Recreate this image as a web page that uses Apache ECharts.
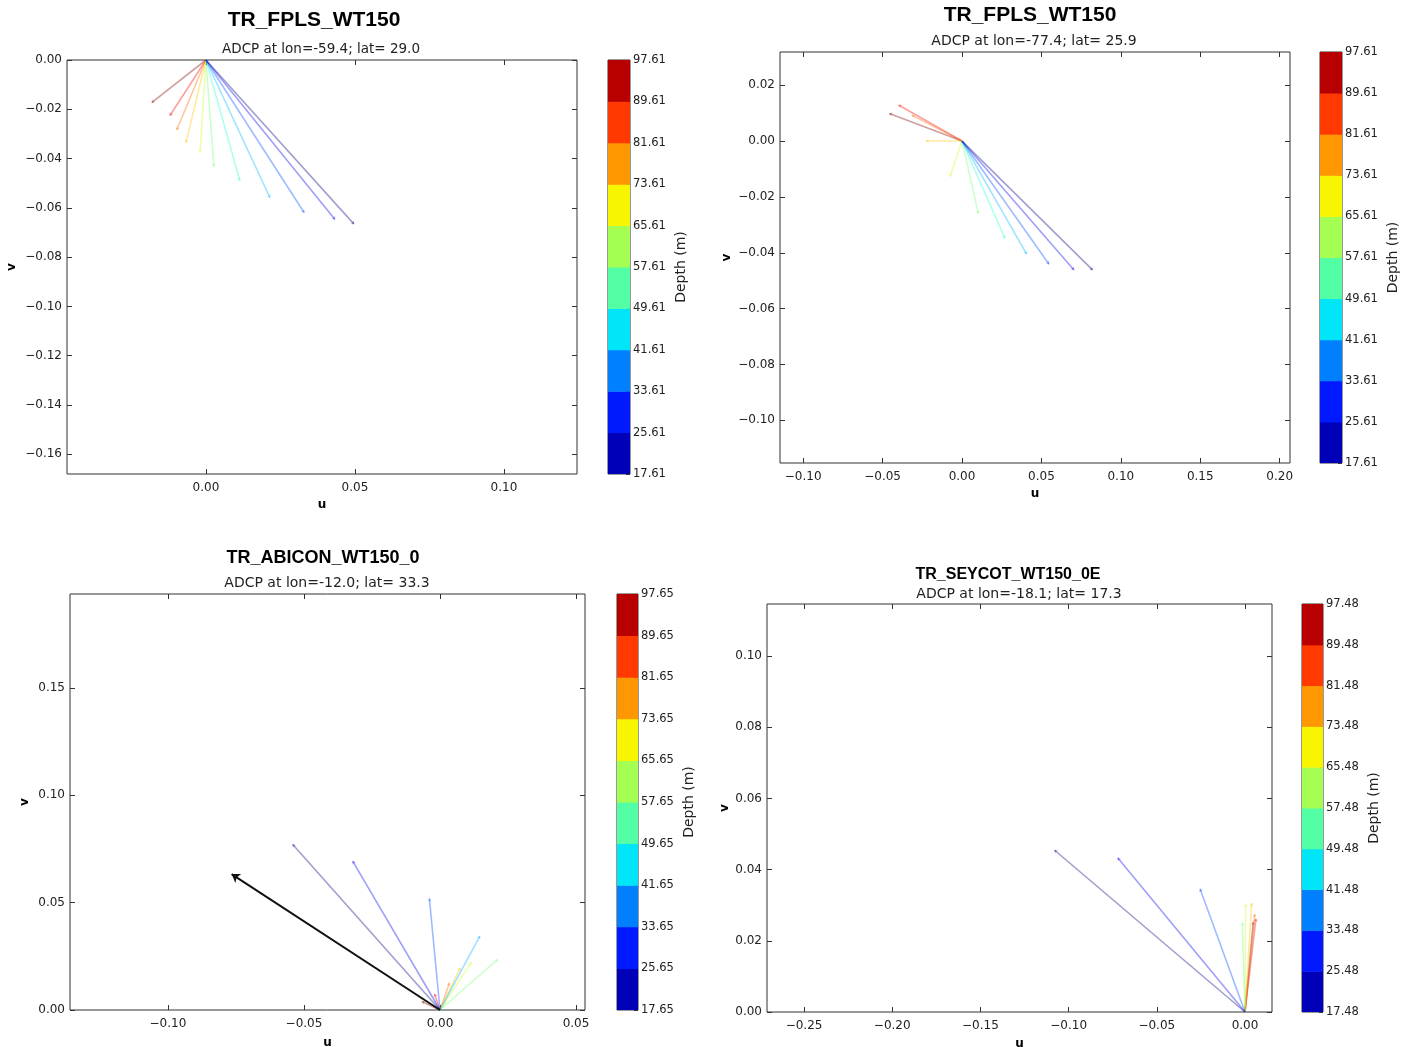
<!DOCTYPE html>
<html><head><meta charset="utf-8">
<script src="https://cdn.jsdelivr.net/npm/echarts@6/dist/echarts.min.js"></script>
<style>html,body{margin:0;padding:0;background:#fff}#c{width:1410px;height:1047px}</style>
</head><body><div id="c"></div>
<script>
// ---------------- DATA ----------------
const titles = ['TR_FPLS_WT150', 'TR_FPLS_WT150', 'TR_ABICON_WT150_0', 'TR_SEYCOT_WT150_0E'];
const subtitles = ['ADCP at lon=-59.4; lat= 29.0', 'ADCP at lon=-77.4; lat= 25.9', 'ADCP at lon=-12.0; lat= 33.3', 'ADCP at lon=-18.1; lat= 17.3'];

// panel 1
const depth1 = [17.61, 25.61, 33.61, 41.61, 49.61, 57.61, 65.61, 73.61, 81.61, 89.61, 97.61];
const u1 = [0.0497, 0.0433, 0.0330, 0.0215, 0.0114, 0.0027, -0.0020, -0.0067, -0.0098, -0.0121, -0.0182];
const v1 = [-0.0666, -0.0647, -0.0620, -0.0559, -0.0490, -0.0433, -0.0377, -0.0336, -0.0284, -0.0226, -0.0173];
const xTicks1 = [0.00, 0.05, 0.10];
const yTicks1 = [0.00, -0.02, -0.04, -0.06, -0.08, -0.10, -0.12, -0.14, -0.16];
const cbTicks1 = [17.61, 25.61, 33.61, 41.61, 49.61, 57.61, 65.61, 73.61, 81.61, 89.61, 97.61];

// panel 2
const depth2 = [17.61, 25.61, 33.61, 41.61, 49.61, 57.61, 65.61, 73.61, 81.61, 89.61, 97.61];
const u2 = [0.0823, 0.0705, 0.0548, 0.0407, 0.0271, 0.0103, -0.0076, -0.0227, -0.0317, -0.0400, -0.0458];
const v2 = [-0.0462, -0.0462, -0.0441, -0.0405, -0.0349, -0.0261, -0.0128, 0.0000, 0.0093, 0.0129, 0.0099];
const xTicks2 = [-0.10, -0.05, 0.00, 0.05, 0.10, 0.15, 0.20];
const yTicks2 = [0.02, 0.00, -0.02, -0.04, -0.06, -0.08, -0.10];
const cbTicks2 = [17.61, 25.61, 33.61, 41.61, 49.61, 57.61, 65.61, 73.61, 81.61, 89.61, 97.61];

// panel 3
const depth3 = [17.65, 25.65, 33.65, 41.65, 57.65, 65.65, 73.65, 81.65, 89.65, 97.65];
const u3 = [-0.0542, -0.0321, -0.0039, 0.0147, 0.0212, 0.0116, 0.0074, 0.0035, -0.0020, -0.0067];
const v3 = [0.0772, 0.0694, 0.0520, 0.0345, 0.0236, 0.0223, 0.0196, 0.0127, 0.0075, 0.0040];
const meanU3 = [-0.0766];
const meanV3 = [0.0633];
const xTicks3 = [-0.10, -0.05, 0.00, 0.05];
const yTicks3 = [0.00, 0.05, 0.10, 0.15];
const cbTicks3 = [17.65, 25.65, 33.65, 41.65, 49.65, 57.65, 65.65, 73.65, 81.65, 89.65, 97.65];

// panel 4
const depth4 = [17.48, 25.48, 33.48, 57.48, 65.48, 73.48, 81.48, 89.48, 97.48];
const u4 = [-0.1081, -0.0722, -0.0255, -0.0015, 0.0004, 0.0038, 0.0055, 0.0062, 0.0047];
const v4 = [0.0455, 0.0433, 0.0346, 0.0251, 0.0303, 0.0306, 0.0275, 0.0262, 0.0253];
const xTicks4 = [-0.25, -0.20, -0.15, -0.10, -0.05, 0.00];
const yTicks4 = [0.00, 0.02, 0.04, 0.06, 0.08, 0.10];
const cbTicks4 = [17.48, 25.48, 33.48, 41.48, 49.48, 57.48, 65.48, 73.48, 81.48, 89.48, 97.48];

// ---------------- LAYOUT ----------------
const panels = [
  {depth: depth1, u: u1, v: v1, xt: xTicks1, yt: yTicks1, cb: cbTicks1,
   grid: {left: 67, top: 60, width: 510, height: 414}, xr: [-0.0466, 0.1245], yr: [-0.168, 0.0],
   cbGrid: {left: 608, top: 60, width: 22, height: 414},
   title: {x: 314, y: 20, size: 21}, sub: {x: 321, y: 49, size: 13.5}, uGap: 25, vGap: 49},
  {depth: depth2, u: u2, v: v2, xt: xTicks2, yt: yTicks2, cb: cbTicks2,
   grid: {left: 780, top: 52, width: 510, height: 411}, xr: [-0.1146, 0.2065], yr: [-0.1153, 0.0319],
   cbGrid: {left: 1320, top: 52, width: 22, height: 411},
   title: {x: 1030, y: 15, size: 21}, sub: {x: 1034, y: 41, size: 14}, uGap: 25, vGap: 47},
  {depth: depth3, u: u3, v: v3, xt: xTicks3, yt: yTicks3, cb: cbTicks3,
   grid: {left: 70, top: 594, width: 515, height: 416}, xr: [-0.136, 0.0533], yr: [0.0, 0.1938],
   cbGrid: {left: 617, top: 594, width: 21, height: 416},
   title: {x: 323, y: 558, size: 18}, sub: {x: 327, y: 583, size: 14}, uGap: 27, vGap: 39},
  {depth: depth4, u: u4, v: v4, xt: xTicks4, yt: yTicks4, cb: cbTicks4,
   grid: {left: 767, top: 604, width: 505, height: 408}, xr: [-0.271, 0.0153], yr: [0.0, 0.1146],
   cbGrid: {left: 1302, top: 604, width: 21, height: 408},
   title: {x: 1008, y: 575, size: 16}, sub: {x: 1019, y: 594, size: 14}, uGap: 26, vGap: 36}
];

// matplotlib 'jet' colormap
const JET = {
  r: [[0, 0], [0.35, 0], [0.66, 1], [0.89, 1], [1, 0.5]],
  g: [[0, 0], [0.125, 0], [0.375, 1], [0.64, 1], [0.91, 0], [1, 0]],
  b: [[0, 0.5], [0.11, 1], [0.34, 1], [0.65, 0], [1, 0]]
};
function seg(s, x) {
  for (let i = 1; i < s.length; i++) {
    if (x <= s[i][0]) {
      const [x0, y0] = s[i - 1], [x1, y1] = s[i];
      return y0 + (y1 - y0) * (x - x0) / (x1 - x0);
    }
  }
  return s[s.length - 1][1];
}
function jet(x, a) {
  x = Math.max(0, Math.min(1, x));
  const r = Math.round(255 * seg(JET.r, x)), g = Math.round(255 * seg(JET.g, x)), b = Math.round(255 * seg(JET.b, x));
  return `rgba(${r},${g},${b},${a})`;
}
const fmt = v => (Math.abs(v) < 1e-9 ? '0.00' : (v < 0 ? '\u2212' : '') + Math.abs(v).toFixed(2));
const TICK_FONT = {fontFamily: 'DejaVu Sans', fontSize: 12, color: '#222'};
const NAME_FONT = {fontFamily: 'DejaVu Sans', fontSize: 12, fontWeight: 'bold', color: '#000'};

const grids = [], xAxes = [], yAxes = [], series = [], graphics = [];

function valAxis(gi, range, ticks, pos, labels, name, gap, isY) {
  return {
    type: 'value', gridIndex: gi, min: range[0], max: range[1], position: pos,
    axisLine: {show: false, onZero: false}, splitLine: {show: false},
    axisTick: {show: true, inside: true, length: 5, lineStyle: {color: '#333', width: 1}, customValues: ticks},
    axisLabel: Object.assign({show: labels, customValues: ticks, formatter: fmt, margin: isY ? 5 : 8}, TICK_FONT),
    name: name || '', nameLocation: 'middle', nameGap: gap || 0, nameRotate: isY ? 90 : 0,
    nameTextStyle: NAME_FONT
  };
}

// plot panels: grids 0..3, x/y axes 0..7
panels.forEach((p, i) => {
  grids.push(Object.assign({show: true, borderColor: '#333', borderWidth: 1, containLabel: false, outerBoundsMode: 'none'}, p.grid));
  xAxes.push(valAxis(i, p.xr, p.xt, 'bottom', true, 'u', p.uGap, false));
  xAxes.push(valAxis(i, p.xr, p.xt, 'top', false));
  yAxes.push(valAxis(i, p.yr, p.yt, 'left', true, 'v', p.vGap, true));
  yAxes.push(valAxis(i, p.yr, p.yt, 'right', false));

  const dmin = p.cb[0], dmax = p.cb[p.cb.length - 1];
  series.push({
    type: 'lines', coordinateSystem: 'cartesian2d', xAxisIndex: 2 * i, yAxisIndex: 2 * i,
    polyline: false, silent: true, animation: false,
    symbol: ['none', 'arrow'], symbolSize: 3,
    lineStyle: {width: 1.6, opacity: 1},
    data: p.depth.map((d, k) => ({
      coords: [[0, 0], [p.u[k], p.v[k]]],
      lineStyle: {color: jet((d - dmin) / (dmax - dmin), 0.38)}
    })).reverse()
  });

  graphics.push({type: 'text', x: p.title.x, y: p.title.y,
    style: {text: titles[i], font: `bold ${p.title.size}px "Liberation Sans", Arial, sans-serif`,
      align: 'center', verticalAlign: 'middle', textAlign: 'center', textVerticalAlign: 'middle', fill: '#000'}});
  graphics.push({type: 'text', x: p.sub.x, y: p.sub.y,
    style: {text: subtitles[i], font: `${p.sub.size}px "DejaVu Sans", sans-serif`,
      align: 'center', verticalAlign: 'middle', textAlign: 'center', textVerticalAlign: 'middle', fill: '#222'}});
});

// colorbars: grids 4..7, x/y axes 8..11
panels.forEach((p, i) => {
  const cg = 4 + i;
  const dmin = p.cb[0], dmax = p.cb[p.cb.length - 1];
  grids.push(Object.assign({show: true, borderColor: '#333', borderWidth: 1, outerBoundsMode: 'none'}, p.cbGrid));
  xAxes.push({type: 'value', gridIndex: cg, min: 0, max: 1, show: false});
  yAxes.push({
    type: 'value', gridIndex: cg, min: dmin, max: dmax, position: 'right',
    axisLine: {show: false, onZero: false}, splitLine: {show: false},
    axisTick: {show: true, inside: true, length: 4, lineStyle: {color: '#333'}, customValues: p.cb},
    axisLabel: Object.assign({customValues: p.cb, formatter: v => v.toFixed(2), margin: 3}, TICK_FONT, {fontSize: 11.5}),
    name: 'Depth (m)', nameLocation: 'middle', nameGap: 44, nameRotate: 90,
    nameTextStyle: {fontFamily: 'DejaVu Sans', fontSize: 14, color: '#222'}
  });
  const nb = p.cb.length - 1;
  const bins = [];
  for (let k = 0; k < nb; k++) bins.push([p.cb[k], p.cb[k + 1], k]);
  series.push({
    type: 'custom', coordinateSystem: 'cartesian2d', xAxisIndex: 8 + i, yAxisIndex: 8 + i,
    silent: true, animation: false, clip: true,
    renderItem: (params, api) => {
      const lo = api.value(0), hi = api.value(1), k = api.value(2);
      const p0 = api.coord([0, lo]), p1 = api.coord([1, hi]);
      return {type: 'rect', shape: {x: p0[0], y: p1[1], width: p1[0] - p0[0], height: p0[1] - p1[1] + 0.5},
        style: {fill: jet((k + 0.5) / nb, 1)}};
    },
    encode: {x: 2, y: [0, 1]},
    data: bins
  });
});

// mean current arrow (panel 3)
series.push({
  type: 'lines', coordinateSystem: 'cartesian2d', xAxisIndex: 4, yAxisIndex: 4,
  polyline: false, silent: true, animation: false,
  symbol: ['none', 'arrow'], symbolSize: 8,
  lineStyle: {width: 2, color: '#111', opacity: 1},
  data: meanU3.map((u, k) => ({coords: [[0, 0], [u, meanV3[k]]]}))
});

const chart = echarts.init(document.getElementById('c'), null, {renderer: 'canvas'});
chart.setOption({
  backgroundColor: '#fff',
  animation: false,
  grid: grids, xAxis: xAxes, yAxis: yAxes, series: series, graphic: graphics
});
</script>
</body></html>
